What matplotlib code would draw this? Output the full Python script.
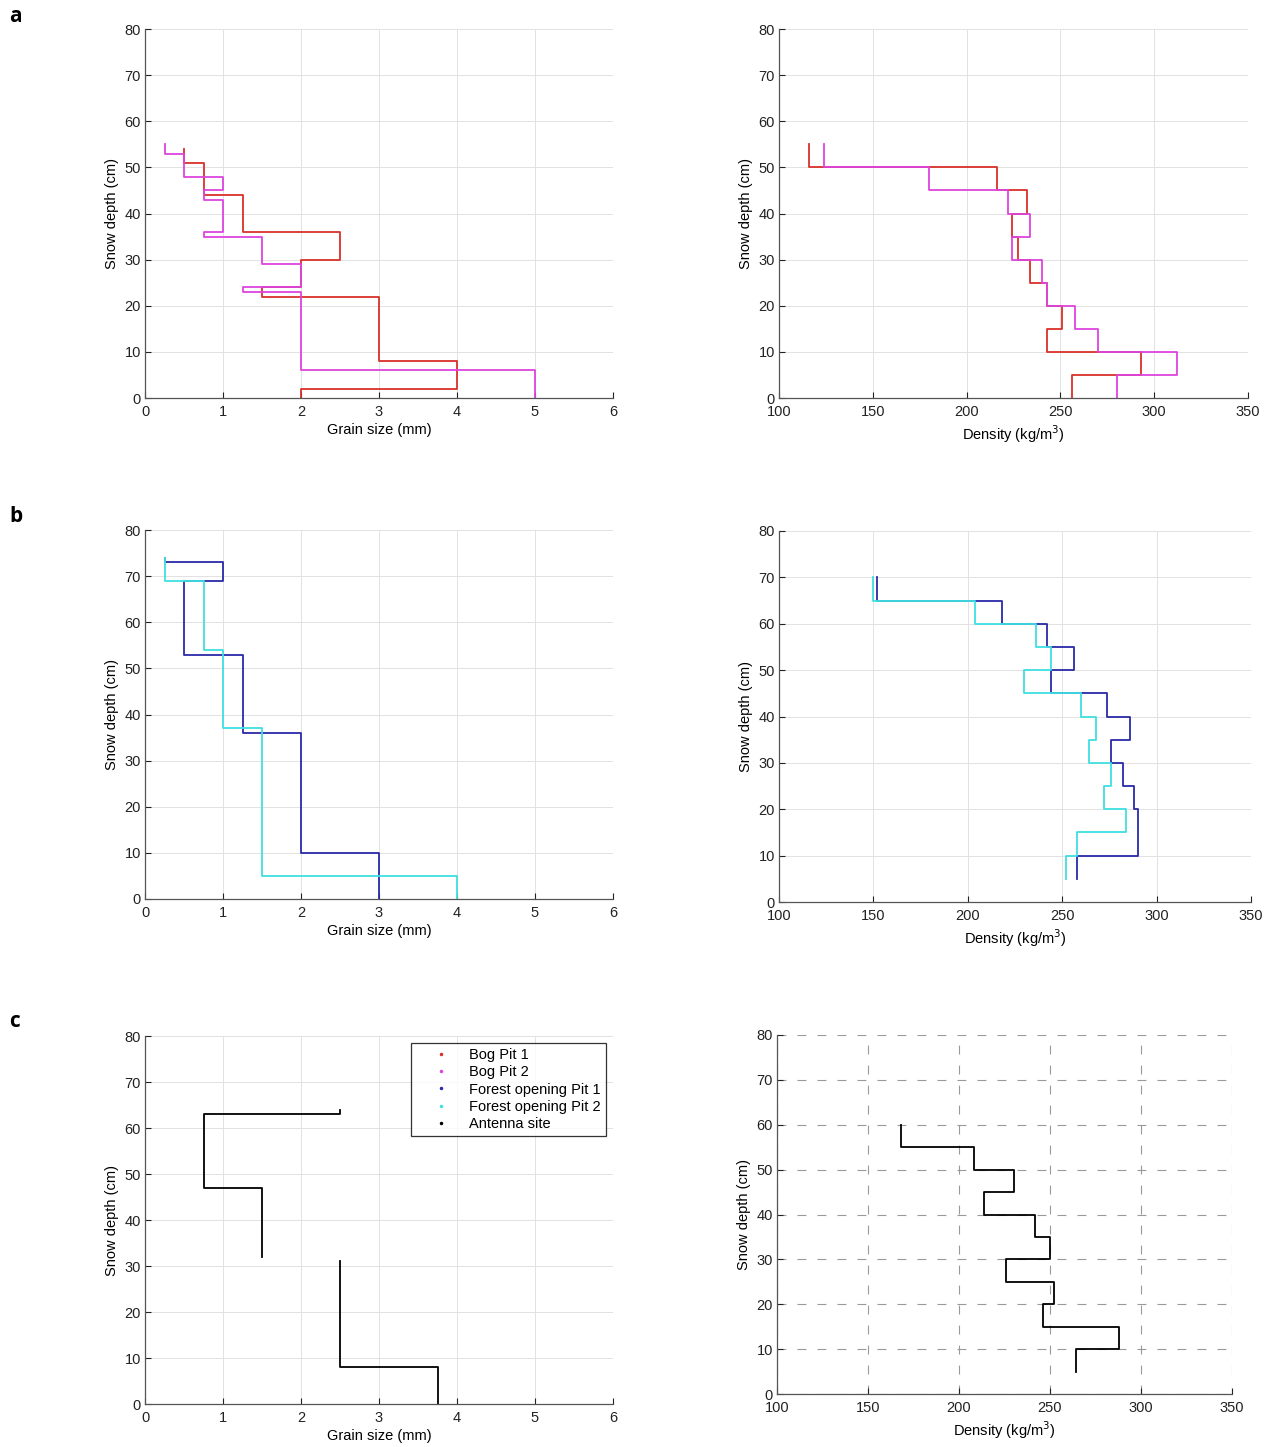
import numpy as np
import matplotlib
matplotlib.use("Agg")
import matplotlib.pyplot as plt
from matplotlib.lines import Line2D

plt.rcParams['font.family'] = ['Liberation Sans', 'DejaVu Sans']

# ---- data: layer edges (cm, from ground up) and layer values ----
# Bog pits (panel a)
bog1_grain_edges = [0, 2, 8, 22, 24, 30, 36, 44, 51, 54]
bog1_grain = [2, 4, 3, 1.5, 2, 2.5, 1.25, 0.75, 0.5]
bog2_grain_edges = [0, 6, 23, 24, 29, 35, 36, 43, 45, 48, 53, 55]
bog2_grain = [5, 2, 1.25, 2, 1.5, 0.75, 1, 0.75, 1, 0.5, 0.25]

bog_dens_edges = [0, 5, 10, 15, 20, 25, 30, 35, 40, 45, 50, 55]
bog1_dens = [256, 293, 243, 251, 243, 234, 227.5, 224, 232, 216, 116]
bog2_dens = [280, 312, 270, 258, 243, 240, 224, 234, 222, 180, 124]

# Forest opening pits (panel b)
for1_grain_edges = [0, 10, 36, 53, 69, 73, 74]
for1_grain = [3, 2, 1.25, 0.5, 1, 0.25]
for2_grain_edges = [0, 5, 37, 54, 69, 74]
for2_grain = [4, 1.5, 1, 0.75, 0.25]

for_dens_edges = [5, 10, 15, 20, 25, 30, 35, 40, 45, 50, 55, 60, 65, 70]
for1_dens = [257.6, 290, 290, 288, 282, 276, 286, 273.5, 244, 256, 242, 218, 152]
for2_dens = [252, 257.6, 284, 272, 276, 264, 268, 260, 230, 244, 236, 204, 150]

# Antenna site (panel c) - grain profile has a missing layer between 31 and 32 cm
ant_grain_low_edges = [0, 8, 31]
ant_grain_low = [3.75, 2.5]
ant_grain_up_edges = [32, 47, 63, 64]
ant_grain_up = [1.5, 0.75, 2.5]

ant_dens_edges = [5, 10, 15, 20, 25, 30, 35, 40, 45, 50, 55, 60]
ant_dens = [264.5, 288, 246, 252, 226, 250, 242, 214, 230, 208, 168]

labels = ['Bog Pit 1', 'Bog Pit 2', 'Forest opening Pit 1', 'Forest opening Pit 2', 'Antenna site']
colors = ['#d9302a', '#dd44dd', '#2a2aa8', '#3fe0e0', '#000000']


def profile(edges, values):
    # step path: vertical at each layer value, horizontal at layer boundaries
    xs, ys = [], []
    for i, v in enumerate(values):
        xs += [v, v]
        ys += [edges[i], edges[i + 1]]
    return np.array(xs), np.array(ys)


W, H = 1275, 1447
fig = plt.figure(figsize=(W / 100, H / 100), dpi=100)


def make_ax(x0, y0, x1, y1):
    return fig.add_axes([x0 / W, 1 - y1 / H, (x1 - x0) / W, (y1 - y0) / H])


def style(ax, kind, grid_style='light'):
    ax.set_ylim(0, 80)
    ax.set_yticks(range(0, 81, 10))
    if kind == 'grain':
        ax.set_xlim(0, 6)
        ax.set_xticks(range(0, 7))
        ax.set_xlabel('Grain size (mm)', fontsize=10.5, labelpad=3)
    else:
        ax.set_xlim(100, 350)
        ax.set_xticks(range(100, 351, 50))
        ax.set_xlabel('Density (kg/m$^3$)', fontsize=10.5, labelpad=3)
    ax.set_ylabel('Snow depth (cm)', fontsize=10.5, labelpad=4)
    for s in ['top', 'right']:
        ax.spines[s].set_visible(False)
    for s in ['left', 'bottom']:
        ax.spines[s].set_color('#555555')
        ax.spines[s].set_linewidth(0.9)
    ax.tick_params(direction='in', length=4, labelsize=10.5, colors='#222222', width=0.8)
    ax.tick_params(axis='x', pad=5)
    ax.tick_params(axis='y', pad=3)
    if grid_style == 'dashed':
        ax.grid(True, color='#999999', linestyle=(0, (8, 10)), linewidth=0.8)
    else:
        ax.grid(True, color='#e2e2e2', linestyle='-', linewidth=0.7)
    ax.set_axisbelow(True)


lw = 1.3

# panel a
ax = make_ax(145, 29, 613, 398)
style(ax, 'grain')
ax.plot(*profile(bog1_grain_edges, bog1_grain), color=colors[0], lw=lw)
ax.plot(*profile(bog2_grain_edges, bog2_grain), color=colors[1], lw=lw)

ax = make_ax(779, 29, 1248, 398)
style(ax, 'dens')
ax.plot(*profile(bog_dens_edges, bog1_dens), color=colors[0], lw=lw)
ax.plot(*profile(bog_dens_edges, bog2_dens), color=colors[1], lw=lw)

# panel b
ax = make_ax(145, 530, 613, 899)
style(ax, 'grain')
ax.plot(*profile(for1_grain_edges, for1_grain), color=colors[2], lw=lw)
ax.plot(*profile(for2_grain_edges, for2_grain), color=colors[3], lw=lw)

ax = make_ax(779, 531, 1251, 902)
style(ax, 'dens')
ax.plot(*profile(for_dens_edges, for1_dens), color=colors[2], lw=lw)
ax.plot(*profile(for_dens_edges, for2_dens), color=colors[3], lw=lw)

# panel c
ax = make_ax(145, 1036, 613, 1404)
style(ax, 'grain')
ax.plot(*profile(ant_grain_low_edges, ant_grain_low), color=colors[4], lw=lw)
ax.plot(*profile(ant_grain_up_edges, ant_grain_up), color=colors[4], lw=lw)
handles = [Line2D([], [], marker='.', markersize=3, linestyle='none', color=c) for c in colors]
leg = ax.legend(handles, labels, loc='upper right', bbox_to_anchor=(0.985, 0.981),
                borderaxespad=0, fontsize=10.5, frameon=True, fancybox=False,
                handlelength=3.4, handletextpad=0.25, borderpad=0.35, labelspacing=0.22)
leg.get_frame().set_edgecolor('#000000')
leg.get_frame().set_linewidth(0.9)

ax = make_ax(777, 1035, 1232, 1394)
style(ax, 'dens', grid_style='dashed')
ax.plot(*profile(ant_dens_edges, ant_dens), color=colors[4], lw=lw)

# panel letters
for letter, ybase in [('a', 22), ('b', 522), ('c', 1027)]:
    fig.text(9 / W, 1 - ybase / H, letter, fontsize=15, fontweight='bold',
             family=['Open Sans', 'DejaVu Sans'], va='baseline', ha='left')

fig.savefig('out.png', dpi=100)
